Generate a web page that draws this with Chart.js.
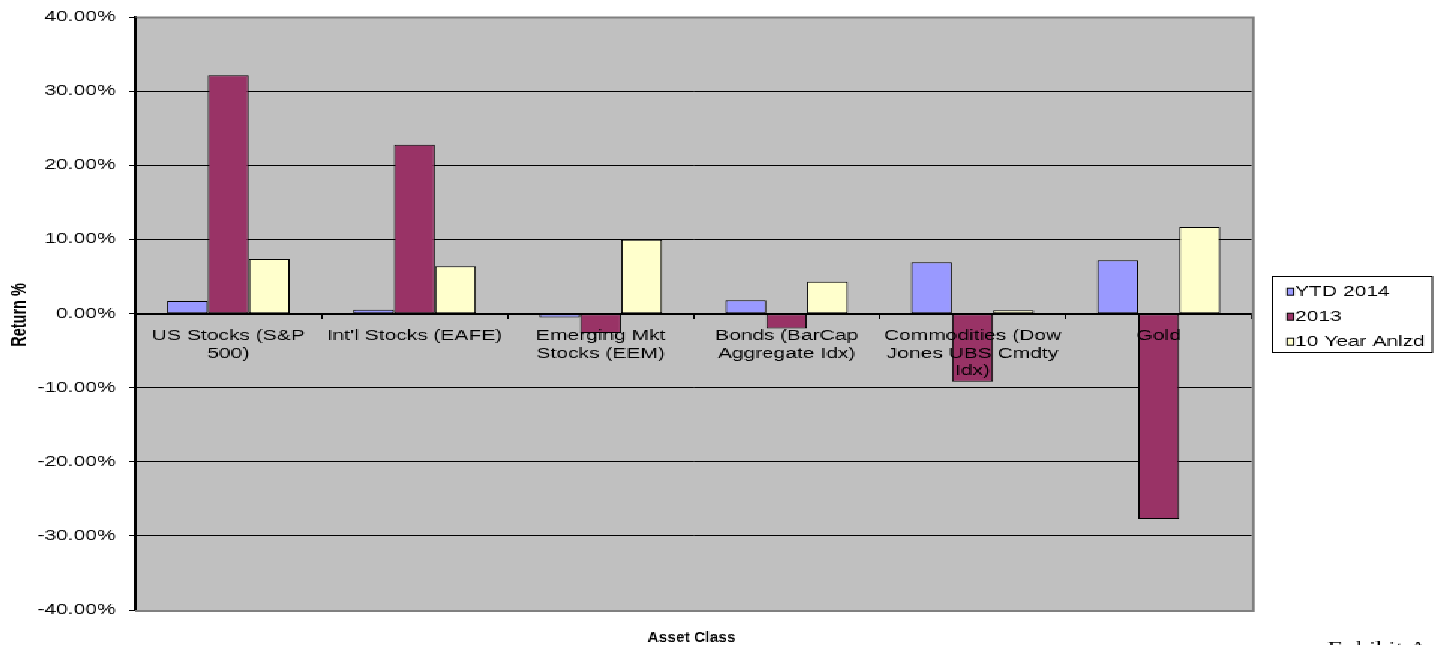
<!DOCTYPE html>
<html><head><meta charset="utf-8">
<script src="https://cdn.jsdelivr.net/npm/chart.js@4/dist/chart.umd.min.js"></script>
<style>
html,body{margin:0;padding:0;background:#fff;overflow:hidden;width:1434px;height:645px;}
#wrap{position:absolute;left:0;top:0;width:956px;height:645px;transform:scaleX(1.5);transform-origin:0 0;}
canvas{display:block;image-rendering:pixelated;}
</style></head><body>
<div id="wrap"><canvas id="c" width="956" height="645"></canvas></div>
<script>
// ---- data ----
const categories = [["US Stocks (S&P","500)"],"Int'l Stocks (EAFE)",["Emerging Mkt","Stocks (EEM)"],["Bonds (BarCap","Aggregate Idx)"],["Commodities (Dow","Jones UBS Cmdty","Idx)"],"Gold"];
const seriesNames = ["YTD 2014","2013","10 Year Anlzd"];
const ytd2014 = [1.7, 0.55, -0.5, 1.8, 6.95, 7.2];
const y2013 = [32.2, 22.8, -2.6, -2.0, -9.2, -27.7];
const tenYear = [7.4, 6.4, 10.0, 4.3, 0.45, 11.7];
const yTicks = [-40, -30, -20, -10, 0, 10, 20, 30, 40];
const yTitle = "Return %";
const xTitle = "Asset Class";
const footNote = "Exhibit A";
const seriesColors = ['#9999FF', '#993366', '#FFFFCC'];

const SANS = "'Liberation Sans', Arial, sans-serif";

const decor = {
  id: 'decor',
  beforeDraw(chart) {
    const {ctx, chartArea: a} = chart;
    ctx.save();
    ctx.fillStyle = '#C0C0C0';
    ctx.fillRect(a.left, a.top, a.right - a.left, a.bottom - a.top);
    ctx.restore();
  },
  afterDraw(chart) {
    const {ctx, chartArea: a} = chart;
    ctx.save();
    // grey frame (top, right, bottom)
    ctx.strokeStyle = '#808080';
    ctx.lineWidth = 2;
    ctx.beginPath();
    ctx.moveTo(a.left, a.top); ctx.lineTo(a.right + 1, a.top);
    ctx.lineTo(a.right + 1, a.bottom + 1); ctx.lineTo(a.left, a.bottom + 1);
    ctx.stroke();
    ctx.strokeStyle = '#000';
    ctx.beginPath(); ctx.moveTo(a.left, a.top); ctx.lineTo(a.left, a.bottom); ctx.stroke();

    // legend
    const lx = 848, ly = 276, lw = 106.5, lh = 76;
    ctx.lineWidth = 1;
    ctx.strokeStyle = '#000';
    ctx.strokeRect(lx + 0.5, ly + 0.5, lw, lh);
    ctx.font = '14px ' + SANS;
    ctx.textBaseline = 'middle';
    ctx.textAlign = 'left';
    chart.data.datasets.forEach((ds, i) => {
      const cy = 291.7 + i * 25;
      ctx.fillStyle = ds.backgroundColor;
      ctx.fillRect(858.3, cy - 3.5, 4.3, 7);
      ctx.strokeStyle = '#000';
      ctx.lineWidth = 1;
      ctx.strokeRect(858.3, cy - 3.5, 4.3, 7);
      ctx.fillStyle = '#000';
      ctx.fillText(ds.label, 863.5, cy + 0.5);
    });

    ctx.fillStyle = '#000';
    ctx.textAlign = 'center';
    ctx.textBaseline = 'middle';
    // x title (undo horizontal stretch)
    ctx.font = 'bold 15.5px ' + SANS;
    ctx.save();
    ctx.translate((a.left + a.right) / 2 - 1.5, 638);
    ctx.scale(1 / 1.5, 1);
    ctx.fillText(xTitle, 0, 0);
    ctx.restore();
    // y title (rotated)
    ctx.font = 'bold 14.5px ' + SANS;
    ctx.save();
    ctx.translate(13.3, 315);
    ctx.rotate(-Math.PI / 2);
    ctx.fillText(yTitle, 0, 0);
    ctx.restore();

    // footnote
    ctx.font = '17px "Liberation Serif", "Times New Roman", serif';
    ctx.textAlign = 'left';
    ctx.textBaseline = 'alphabetic';
    ctx.fillText(footNote, 885.3, 653);
    ctx.restore();
  }
};

new Chart(document.getElementById('c'), {
  type: 'bar',
  data: {
    labels: categories,
    datasets: [
      {label: seriesNames[0], data: ytd2014, backgroundColor: seriesColors[0]},
      {label: seriesNames[1], data: y2013, backgroundColor: seriesColors[1]},
      {label: seriesNames[2], data: tenYear, backgroundColor: seriesColors[2]}
    ].map(d => Object.assign(d, {borderColor: '#000', borderWidth: 1, borderSkipped: false, categoryPercentage: 0.66, barPercentage: 1}))
  },
  options: {
    responsive: false,
    animation: false,
    devicePixelRatio: 1,
    layout: {padding: {left: 0, right: 121.3, top: 17, bottom: 35}},
    plugins: {legend: {display: false}, tooltip: {enabled: false}},
    scales: {
      x: {
        position: {y: 0},
        offset: true,
        grid: {drawOnChartArea: false, drawTicks: true, tickLength: 4, tickColor: '#000', offset: true, lineWidth: 1},
        border: {color: '#000', width: 2, z: 1},
        ticks: {z: 2, autoSkip: false, maxRotation: 0, minRotation: 0, padding: 10, color: '#000',
                font: {family: SANS, size: 14, lineHeight: 1.25}}
      },
      y: {
        min: yTicks[0], max: yTicks[yTicks.length - 1],
        afterFit(s) { s.width = 90; },
        afterBuildTicks(s) { s.ticks = yTicks.map(v => ({value: v})); },
        grid: {color: '#000', lineWidth: 1, tickLength: 4, tickColor: '#000', drawTicks: true},
        border: {color: '#000', width: 2},
        ticks: {color: '#000', padding: 9, font: {family: SANS, size: 14},
                callback: v => Number(v).toFixed(2) + '%'},
        title: {display: false}
      }
    }
  },
  plugins: [decor]
});
</script>
</body></html>
